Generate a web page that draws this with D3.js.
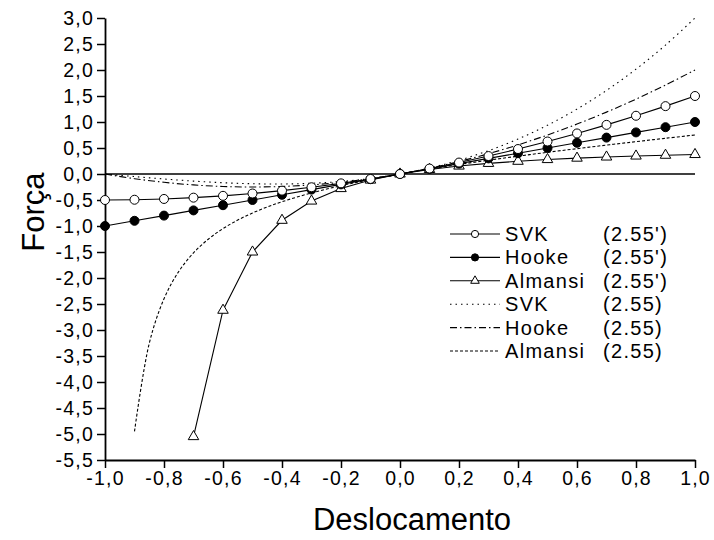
<!DOCTYPE html>
<html>
<head>
<meta charset="utf-8">
<script src="https://cdn.jsdelivr.net/npm/d3@7"></script>
<style>
  html, body { margin: 0; padding: 0; background: #fff; }
  svg { display: block; }
  text { font-family: "Liberation Sans", Arial, sans-serif; fill: #000; }
</style>
</head>
<body>
<svg id="chart" width="714" height="540"></svg>
<script>
// ---------- data ----------
const xMarkers = [-1.0,-0.9,-0.8,-0.7,-0.6,-0.5,-0.4,-0.3,-0.2,-0.1,0.0,0.1,0.2,0.3,0.4,0.5,0.6,0.7,0.8,0.9,1.0];
const svkPrime = [-0.5,-0.495,-0.48,-0.455,-0.42,-0.375,-0.32,-0.255,-0.18,-0.095,0,0.105,0.22,0.345,0.48,0.625,0.78,0.945,1.12,1.305,1.5];
const hookePrime = [-1.0,-0.9,-0.8,-0.7,-0.6,-0.5,-0.4,-0.3,-0.2,-0.1,0,0.1,0.2,0.3,0.4,0.5,0.6,0.7,0.8,0.9,1.0];
const xAlmansiPrime = [-0.7,-0.6,-0.5,-0.4,-0.3,-0.2,-0.1,0.0,0.1,0.2,0.3,0.4,0.5,0.6,0.7,0.8,0.9,1.0];
const almansiPrime = [-5.05,-2.62,-1.5,-0.89,-0.52,-0.28,-0.117,0,0.087,0.153,0.204,0.245,0.278,0.305,0.327,0.346,0.361,0.375];

const xCurve = [-1.0,-0.9,-0.8,-0.7,-0.6,-0.5,-0.4,-0.3,-0.2,-0.1,0.0,0.1,0.2,0.3,0.4,0.5,0.6,0.7,0.8,0.9,1.0];
const svkCurve = [0,-0.0495,-0.096,-0.1365,-0.168,-0.1875,-0.192,-0.1785,-0.144,-0.0855,0,0.1155,0.264,0.4485,0.672,0.9375,1.248,1.6065,2.016,2.4795,3.0];
const hookeCurve = [0,-0.09,-0.16,-0.21,-0.24,-0.25,-0.24,-0.21,-0.16,-0.09,0,0.11,0.24,0.39,0.56,0.75,0.96,1.19,1.44,1.71,2.0];
const xAlmansiCurve = [-0.9,-0.85,-0.8,-0.75,-0.7,-0.65,-0.6,-0.55,-0.5,-0.45,-0.4,-0.3,-0.2,-0.1,0.0,0.1,0.2,0.3,0.4,0.5,0.6,0.7,0.8,0.9,1.0];
const almansiCurve = [-4.95,-3.258,-2.4,-1.875,-1.517,-1.254,-1.05,-0.886,-0.75,-0.634,-0.533,-0.364,-0.225,-0.106,0,0.0955,0.183,0.265,0.343,0.417,0.4875,0.556,0.622,0.687,0.75];

const xTicks = [-1.0,-0.8,-0.6,-0.4,-0.2,0.0,0.2,0.4,0.6,0.8,1.0];
const xTickLabels = ["-1,0","-0,8","-0,6","-0,4","-0,2","0,0","0,2","0,4","0,6","0,8","1,0"];
const yTicks = [3.0,2.5,2.0,1.5,1.0,0.5,0.0,-0.5,-1.0,-1.5,-2.0,-2.5,-3.0,-3.5,-4.0,-4.5,-5.0,-5.5];
const yTickLabels = ["3,0","2,5","2,0","1,5","1,0","0,5","0,0","-0,5","-1,0","-1,5","-2,0","-2,5","-3,0","-3,5","-4,0","-4,5","-5,0","-5,5"];

const legendNames = ["SVK","Hooke","Almansi","SVK","Hooke","Almansi"];
const legendRefs = ["(2.55')","(2.55')","(2.55')","(2.55)","(2.55)","(2.55)"];
const xTitle = "Deslocamento";
const yTitle = "Força";

// ---------- chart ----------
const svg = d3.select("#chart");
const x = d3.scaleLinear().domain([-1, 1]).range([105, 695]);
const y = d3.scaleLinear().domain([-5.5, 3]).range([460, 18]);

const xMinor = d3.range(-9, 10, 2).map(v => v / 10);
const yMinor = d3.range(-21, 12, 2).map(v => v / 4);

const tickFont = 19.5, tickLS = 1.2;

// y axis
const yAxis = svg.append("g").attr("transform", "translate(105,0)");
yAxis.call(d3.axisLeft(y).tickValues(yMinor).tickSize(4).tickSizeOuter(0).tickFormat(""));
yAxis.call(d3.axisLeft(y).tickValues(yTicks).tickSize(8).tickSizeOuter(0)
  .tickFormat((d, i) => yTickLabels[i]));
yAxis.selectAll("path.domain").attr("stroke-width", 1.8);
yAxis.selectAll(".tick line").attr("stroke-width", 1.5);
yAxis.selectAll(".tick text").attr("font-size", tickFont).attr("letter-spacing", tickLS)
  .attr("font-family", "'Liberation Sans', Arial, sans-serif").attr("x", -11);

// x axis
const xAxis = svg.append("g").attr("transform", "translate(0,460)");
xAxis.call(d3.axisBottom(x).tickValues(xMinor).tickSize(4).tickSizeOuter(0).tickFormat(""));
xAxis.call(d3.axisBottom(x).tickValues(xTicks).tickSize(8).tickSizeOuter(0)
  .tickFormat((d, i) => xTickLabels[i]));
xAxis.selectAll("path.domain").attr("stroke-width", 1.8);
xAxis.selectAll(".tick line").attr("stroke-width", 1.5);
xAxis.selectAll(".tick text").attr("font-size", tickFont).attr("letter-spacing", tickLS)
  .attr("font-family", "'Liberation Sans', Arial, sans-serif").attr("y", 11);

// zero line
svg.append("line")
  .attr("x1", x(-1)).attr("x2", x(1)).attr("y1", y(0)).attr("y2", y(0))
  .attr("stroke", "#000").attr("stroke-width", 1.6);

// axis titles
svg.append("text").attr("x", 412).attr("y", 530).attr("text-anchor", "middle")
  .attr("font-size", 31).text(xTitle);
svg.append("text").attr("transform", "translate(44,212) rotate(-90)")
  .attr("text-anchor", "middle").attr("font-size", 31).text(yTitle);

// curves (2.55)
const curveLine = (xs, ys) => d3.line().x((d, i) => x(xs[i])).y(d => y(d)).curve(d3.curveCatmullRom.alpha(0.5))(ys);
const styles = {
  svk: "1.5,4",
  hooke: "7,3,1.5,3",
  almansi: "3,2"
};
svg.append("path").attr("d", curveLine(xCurve, svkCurve)).attr("fill", "none")
  .attr("stroke", "#000").attr("stroke-width", 1.1).attr("stroke-dasharray", styles.svk);
svg.append("path").attr("d", curveLine(xCurve, hookeCurve)).attr("fill", "none")
  .attr("stroke", "#000").attr("stroke-width", 1.1).attr("stroke-dasharray", styles.hooke);
svg.append("path").attr("d", curveLine(xAlmansiCurve, almansiCurve)).attr("fill", "none")
  .attr("stroke", "#000").attr("stroke-width", 1.1).attr("stroke-dasharray", styles.almansi);

// marker series (2.55')
const straight = (xs, ys) => d3.line().x((d, i) => x(xs[i])).y(d => y(d))(ys);
svg.append("path").attr("d", straight(xMarkers, svkPrime)).attr("fill", "none").attr("stroke", "#000").attr("stroke-width", 1.1);
svg.append("path").attr("d", straight(xMarkers, hookePrime)).attr("fill", "none").attr("stroke", "#000").attr("stroke-width", 1.1);
svg.append("path").attr("d", straight(xAlmansiPrime, almansiPrime)).attr("fill", "none").attr("stroke", "#000").attr("stroke-width", 1.1);

const tri = d3.symbol().type(d3.symbolTriangle);
svg.append("g").selectAll("path").data(almansiPrime).join("path")
  .attr("d", tri.size(48)())
  .attr("transform", (d, i) => `translate(${x(xAlmansiPrime[i])},${y(d)})`)
  .attr("fill", "#fff").attr("stroke", "#000").attr("stroke-width", 1);
svg.append("g").selectAll("circle").data(hookePrime).join("circle")
  .attr("cx", (d, i) => x(xMarkers[i])).attr("cy", d => y(d)).attr("r", 4.5)
  .attr("fill", "#000").attr("stroke", "#000").attr("stroke-width", 1);
svg.append("g").selectAll("circle").data(svkPrime).join("circle")
  .attr("cx", (d, i) => x(xMarkers[i])).attr("cy", d => y(d)).attr("r", 4.5)
  .attr("fill", "#fff").attr("stroke", "#000").attr("stroke-width", 1);

// legend
const legY0 = 234, legDY = 23.4;
const lg = svg.append("g");
const dashes = [null, null, null, styles.svk, styles.hooke, styles.almansi];
legendNames.forEach((name, i) => {
  const yy = legY0 + i * legDY;
  const ln = lg.append("line").attr("x1", 450).attr("x2", 500).attr("y1", yy).attr("y2", yy)
    .attr("stroke", "#000").attr("stroke-width", 1.1);
  if (dashes[i]) ln.attr("stroke-dasharray", dashes[i]);
  if (i === 0) lg.append("circle").attr("cx", 475).attr("cy", yy).attr("r", 3.6).attr("fill", "#fff").attr("stroke", "#000");
  if (i === 1) lg.append("circle").attr("cx", 475).attr("cy", yy).attr("r", 3.6).attr("fill", "#000").attr("stroke", "#000");
  if (i === 2) lg.append("path").attr("d", tri.size(32)()).attr("transform", `translate(475,${yy})`).attr("fill", "#fff").attr("stroke", "#000");
  lg.append("text").attr("x", 505).attr("y", yy + 7).attr("font-size", 20).attr("letter-spacing", 1.3).text(name);
  lg.append("text").attr("x", 603).attr("y", yy + 7).attr("font-size", 20).attr("letter-spacing", 1.3).text(legendRefs[i]);
});
</script>
</body>
</html>
